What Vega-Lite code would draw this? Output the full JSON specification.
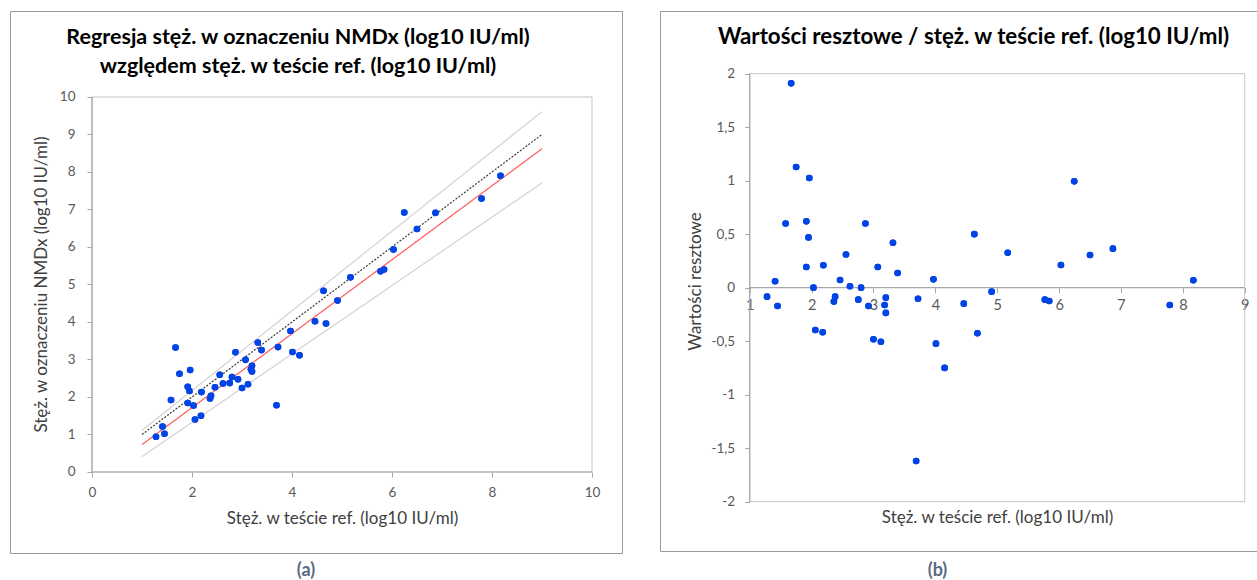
{
  "$schema": "https://vega.github.io/schema/vega-lite/v6.json",
  "padding": {"left": 9, "top": 10, "right": 0, "bottom": 0},
  "autosize": {"type": "pad"},
  "background": "white",
  "spacing": 36,
  "config": {
    "font": "Lato",
    "view": {"stroke": "#9a9a9a", "strokeWidth": 1},
    "axis": {"grid": false, "domain": false, "tickColor": "#a6a6a6", "tickSize": 5, "labelColor": "#595959", "labelFont": "Lato", "labelFontSize": 13.5, "titleFont": "Lato", "titleFontSize": 17, "titleFontWeight": "normal", "titleColor": "#404040"},
    "title": {"font": "Lato", "fontSize": 21.5, "fontWeight": "bold", "color": "#000000"}
  },
  "datasets": {
    "pts": [
      {"ref": 1.28, "nmdx": 0.94, "resid": -0.084},
      {"ref": 1.41, "nmdx": 1.21, "resid": 0.06},
      {"ref": 1.45, "nmdx": 1.02, "resid": -0.171},
      {"ref": 1.58, "nmdx": 1.92, "resid": 0.6},
      {"ref": 1.67, "nmdx": 3.32, "resid": 1.91},
      {"ref": 1.75, "nmdx": 2.62, "resid": 1.128},
      {"ref": 1.915, "nmdx": 2.27, "resid": 0.62},
      {"ref": 1.915, "nmdx": 1.84, "resid": 0.193},
      {"ref": 1.95, "nmdx": 2.16, "resid": 0.47},
      {"ref": 1.963, "nmdx": 2.72, "resid": 1.025},
      {"ref": 2.03, "nmdx": 1.77, "resid": 0.0},
      {"ref": 2.06, "nmdx": 1.4, "resid": -0.395},
      {"ref": 2.18, "nmdx": 1.5, "resid": -0.417},
      {"ref": 2.19, "nmdx": 2.13, "resid": 0.21},
      {"ref": 2.36, "nmdx": 1.96, "resid": -0.13},
      {"ref": 2.38, "nmdx": 2.03, "resid": -0.084},
      {"ref": 2.46, "nmdx": 2.26, "resid": 0.072},
      {"ref": 2.556, "nmdx": 2.59, "resid": 0.31},
      {"ref": 2.62, "nmdx": 2.36, "resid": 0.013},
      {"ref": 2.755, "nmdx": 2.37, "resid": -0.112},
      {"ref": 2.8, "nmdx": 2.53, "resid": 0.0},
      {"ref": 2.87, "nmdx": 3.19, "resid": 0.6},
      {"ref": 2.92, "nmdx": 2.47, "resid": -0.171},
      {"ref": 3.0, "nmdx": 2.24, "resid": -0.483},
      {"ref": 3.07, "nmdx": 2.99, "resid": 0.193},
      {"ref": 3.12, "nmdx": 2.34, "resid": -0.505},
      {"ref": 3.18, "nmdx": 2.74, "resid": -0.162},
      {"ref": 3.2, "nmdx": 2.83, "resid": -0.093},
      {"ref": 3.2, "nmdx": 2.68, "resid": -0.236},
      {"ref": 3.315, "nmdx": 3.45, "resid": 0.42},
      {"ref": 3.39, "nmdx": 3.25, "resid": 0.137},
      {"ref": 3.69, "nmdx": 1.78, "resid": -1.62},
      {"ref": 3.72, "nmdx": 3.33, "resid": -0.103},
      {"ref": 3.97, "nmdx": 3.76, "resid": 0.078},
      {"ref": 4.01, "nmdx": 3.2, "resid": -0.523},
      {"ref": 4.15, "nmdx": 3.11, "resid": -0.75},
      {"ref": 4.46, "nmdx": 4.02, "resid": -0.149},
      {"ref": 4.63, "nmdx": 4.83, "resid": 0.5},
      {"ref": 4.68, "nmdx": 3.96, "resid": -0.426},
      {"ref": 4.91, "nmdx": 4.57, "resid": -0.037},
      {"ref": 5.17, "nmdx": 5.19, "resid": 0.327},
      {"ref": 5.77, "nmdx": 5.35, "resid": -0.112},
      {"ref": 5.84, "nmdx": 5.4, "resid": -0.124},
      {"ref": 6.03, "nmdx": 5.93, "resid": 0.212},
      {"ref": 6.245, "nmdx": 6.92, "resid": 0.994},
      {"ref": 6.5, "nmdx": 6.48, "resid": 0.305},
      {"ref": 6.87, "nmdx": 6.91, "resid": 0.365},
      {"ref": 7.79, "nmdx": 7.29, "resid": -0.162},
      {"ref": 8.17, "nmdx": 7.9, "resid": 0.069}
    ],
    "lines": [
      {"series": "górna granica", "x": 1, "y": 1.11},
      {"series": "górna granica", "x": 9, "y": 9.61},
      {"series": "dolna granica", "x": 1, "y": 0.41},
      {"series": "dolna granica", "x": 9, "y": 7.71},
      {"series": "y = x", "x": 1, "y": 1.0},
      {"series": "y = x", "x": 9, "y": 9.0},
      {"series": "regresja", "x": 1, "y": 0.73},
      {"series": "regresja", "x": 9, "y": 8.62}
    ]
  },
  "hconcat": [
    {
      "title": {"text": "(a)", "orient": "bottom", "anchor": "middle", "offset": 8, "dx": -10, "fontSize": 18, "color": "#596a83"},
      "vconcat": [
        {
          "width": 612,
          "height": 542,
          "title": {"text": ["Regresja stęż. w oznaczeniu NMDx (log10 IU/ml)", "względem stęż. w teście ref. (log10 IU/ml)"], "offset": -66, "dx": -18, "lineHeight": 29, "anchor": "middle"},
          "layer": [
            {
              "data": {"name": "pts"},
              "mark": {"type": "circle", "color": "#0044e6", "opacity": 1, "size": 44},
              "encoding": {
                "x": {"field": "ref", "type": "quantitative", "scale": {"domain": [-1.64, 10.6], "nice": false, "zero": false}, "axis": {"values": [0, 2, 4, 6, 8, 10], "format": "d", "offset": -81, "title": "Stęż. w teście ref. (log10 IU/ml)", "labelPadding": 8, "titlePadding": 12, "titleX": 332}},
                "y": {"field": "nmdx", "type": "quantitative", "scale": {"domain": [-2.16, 12.293], "nice": false, "zero": false}, "axis": {"values": [0, 1, 2, 3, 4, 5, 6, 7, 8, 9, 10], "format": "d", "offset": -82, "title": "Stęż. w oznaczeniu NMDx (log10 IU/ml)", "labelPadding": 12, "titlePadding": 9, "titleY": 273}}
              }
            },
            {
              "data": {"values": [{}]},
              "mark": {"type": "rect", "fill": "transparent", "stroke": "#c4c4c4", "strokeWidth": 1},
              "encoding": {
                "x": {"datum": 0, "type": "quantitative"},
                "x2": {"datum": 10},
                "y": {"datum": 0, "type": "quantitative"},
                "y2": {"datum": 10}
              }
            },
            {
              "data": {"values": [{}]},
              "mark": {"type": "rule", "color": "#a6a6a6", "strokeWidth": 1.2},
              "encoding": {
                "x": {"datum": 0, "type": "quantitative"},
                "y": {"datum": 0, "type": "quantitative"},
                "y2": {"datum": 10}
              }
            },
            {
              "data": {"values": [{}]},
              "mark": {"type": "rule", "color": "#a6a6a6", "strokeWidth": 1.2},
              "encoding": {
                "y": {"datum": 0, "type": "quantitative"},
                "x": {"datum": 0, "type": "quantitative"},
                "x2": {"datum": 10}
              }
            },
            {
              "data": {"name": "lines"},
              "mark": {"type": "line", "strokeWidth": 1.2},
              "encoding": {
                "x": {"field": "x", "type": "quantitative"},
                "y": {"field": "y", "type": "quantitative"},
                "color": {"field": "series", "type": "nominal", "legend": null, "scale": {"domain": ["górna granica", "dolna granica", "y = x", "regresja"], "range": ["#d2d2d2", "#d2d2d2", "#3a3a3a", "#ff5a5a"]}},
                "strokeDash": {"field": "series", "type": "nominal", "legend": null, "scale": {"domain": ["górna granica", "dolna granica", "y = x", "regresja"], "range": [[1, 0], [1, 0], [2, 1.5], [1, 0]]}}
              }
            },
            {
              "data": {"name": "pts"},
              "mark": {"type": "circle", "color": "#0044e6", "opacity": 1, "size": 44},
              "encoding": {
                "x": {"field": "ref", "type": "quantitative"},
                "y": {"field": "nmdx", "type": "quantitative"}
              }
            }
          ]
        }
      ]
    },
    {
      "title": {"text": "(b)", "orient": "bottom", "anchor": "middle", "offset": 10, "dx": -22, "fontSize": 18, "color": "#596a83"},
      "vconcat": [
        {
          "width": 599,
          "height": 540,
          "title": {"text": "Wartości resztowe / stęż. w teście ref. (log10 IU/ml)", "offset": -37, "dx": 14, "anchor": "middle", "fontSize": 22.3},
          "layer": [
            {
              "data": {"name": "pts"},
              "mark": {"type": "circle", "color": "#0044e6", "opacity": 1, "size": 44},
              "encoding": {
                "x": {"field": "ref", "type": "quantitative", "scale": {"domain": [-0.45, 9.231], "nice": false, "zero": false}, "axis": {"values": [1, 2, 3, 4, 5, 6, 7, 8, 9], "format": "d", "labelFontSize": 14.5, "offset": -263.3, "title": "Stęż. w teście ref. (log10 IU/ml)", "labelPadding": 6, "titlePadding": 197, "titleX": 337}},
                "y": {"field": "resid", "type": "quantitative", "scale": {"domain": [-2.461, 2.586], "nice": false, "zero": false}, "axis": {"values": [-2, -1.5, -1, -0.5, 0, 0.5, 1, 1.5, 2], "offset": -89.7, "title": "Wartości resztowe", "labelPadding": 10, "titlePadding": 6, "labelExpr": "replace(replace(format(datum.value, '~g'), '.', ','), '\u2212', '-')"}}
              }
            },
            {
              "data": {"values": [{}]},
              "mark": {"type": "rect", "fill": "transparent", "stroke": "#c4c4c4", "strokeWidth": 1},
              "encoding": {
                "x": {"datum": 1, "type": "quantitative"},
                "x2": {"datum": 9},
                "y": {"datum": -2, "type": "quantitative"},
                "y2": {"datum": 2}
              }
            },
            {
              "data": {"values": [{}]},
              "mark": {"type": "rule", "color": "#a6a6a6", "strokeWidth": 1.2},
              "encoding": {
                "x": {"datum": 1, "type": "quantitative"},
                "y": {"datum": -2, "type": "quantitative"},
                "y2": {"datum": 2}
              }
            },
            {
              "data": {"values": [{}]},
              "mark": {"type": "rule", "color": "#a6a6a6", "strokeWidth": 1.2},
              "encoding": {
                "y": {"datum": 0, "type": "quantitative"},
                "x": {"datum": 1, "type": "quantitative"},
                "x2": {"datum": 9}
              }
            },
            {
              "data": {"name": "pts"},
              "mark": {"type": "circle", "color": "#0044e6", "opacity": 1, "size": 44},
              "encoding": {
                "x": {"field": "ref", "type": "quantitative"},
                "y": {"field": "resid", "type": "quantitative"}
              }
            }
          ]
        }
      ]
    }
  ]
}
